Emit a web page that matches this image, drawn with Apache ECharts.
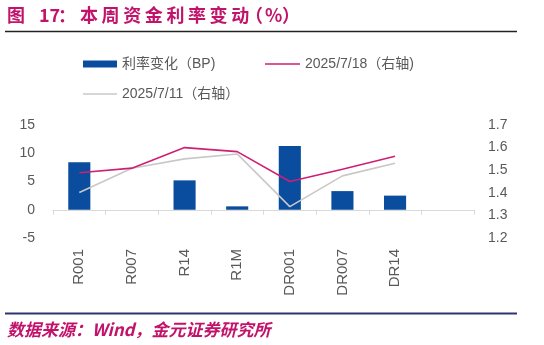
<!DOCTYPE html>
<html>
<head>
<meta charset="utf-8">
<script src="https://cdn.jsdelivr.net/npm/echarts@6/dist/echarts.min.js"></script>
<style>html,body{margin:0;padding:0;background:#fff;}#c{width:544px;height:345px;}</style>
</head>
<body>
<div id="c"></div>
<script>
var categories = ['R001', 'R007', 'R14', 'R1M', 'DR001', 'DR007', 'DR14', ''];
var changeBP = [8.4, 0, 5.2, 0.6, 11.3, 3.3, 2.5, null];
var rate0718 = [1.489, 1.509, 1.600, 1.582, 1.450, 1.504, 1.562];
var rate0711 = [1.401, 1.509, 1.550, 1.572, 1.339, 1.475, 1.531];
var leftTicks = { min: -5, max: 15, interval: 5 };
var rightTicks = { min: 1.2, max: 1.7, interval: 0.1 };
var names = ['利率变化（BP)', '2025/7/18（右轴)', '2025/7/11（右轴）'];

var chart = echarts.init(document.getElementById('c'), null, { renderer: 'canvas' });
var txtFont = "'Liberation Sans', 'Noto Sans CJK SC', sans-serif";
var grey = '#595959';
var titleColor = '#c2136b';
var titleFont = "bold 18px 'Noto Sans CJK SC', sans-serif";

var titlePieces = [['图', 7], ['17', 39], ['：', 58]];
var mainTitle = '本周资金利率变动';
for (var i = 0; i < mainTitle.length; i++) titlePieces.push([mainTitle[i], 80 + i * 21.6]);
titlePieces.push(['（', 245], ['%', 265], ['）', 282]);
var graphics = titlePieces.map(function (p) {
  return { type: 'text', x: p[1], y: 6, style: { text: p[0], fill: titleColor, font: titleFont } };
});
graphics.push(
  { type: 'line', shape: { x1: 5, y1: 31.5, x2: 517, y2: 31.5 }, style: { stroke: '#222', lineWidth: 1.5 } },
  { type: 'line', shape: { x1: 5, y1: 313.5, x2: 517, y2: 313.5 }, style: { stroke: '#2e3470', lineWidth: 2 } },
  { type: 'text', x: 7, y: 321, style: { text: '数据来源：Wind，金元证券研究所', fill: titleColor, font: "italic bold 17px 'Noto Sans CJK SC', sans-serif" } }
);

chart.setOption({
  animation: false,
  backgroundColor: '#ffffff',
  graphic: graphics,
  legend: [
    { left: 78, top: 52, itemWidth: 34, itemHeight: 7, textStyle: { color: grey, fontSize: 14, fontFamily: txtFont }, data: [{ name: names[0], icon: 'rect' }] },
    { left: 260, top: 52, itemWidth: 35, itemHeight: 1.6, textStyle: { color: grey, fontSize: 14, fontFamily: txtFont }, data: [{ name: names[1], icon: 'rect' }] },
    { left: 78, top: 82, itemWidth: 34, itemHeight: 1.4, textStyle: { color: grey, fontSize: 14, fontFamily: txtFont }, data: [{ name: names[2], icon: 'rect' }] }
  ],
  grid: { left: 53, right: 70, top: 125, bottom: 107, containLabel: false },
  xAxis: {
    type: 'category',
    data: categories,
    boundaryGap: true,
    axisLine: { show: true, onZero: true, lineStyle: { color: '#d9d9d9', width: 1 } },
    axisTick: { show: true, length: 5, lineStyle: { color: '#d9d9d9' } },
    axisLabel: { rotate: 90, margin: 11, color: grey, fontSize: 15, fontFamily: txtFont, interval: 0 },
    splitLine: { show: false }
  },
  yAxis: [
    { type: 'value', min: leftTicks.min, max: leftTicks.max, interval: leftTicks.interval, axisLine: { show: false }, axisTick: { show: false }, splitLine: { show: false }, axisLabel: { color: grey, fontSize: 14, fontFamily: txtFont, margin: 18 } },
    { type: 'value', min: rightTicks.min, max: rightTicks.max, interval: rightTicks.interval, axisLine: { show: false }, axisTick: { show: false }, splitLine: { show: false }, axisLabel: { color: grey, fontSize: 14, fontFamily: txtFont, margin: 14, formatter: function (v) { return v.toFixed(1); } } }
  ],
  series: [
    { name: names[0], type: 'bar', yAxisIndex: 0, data: changeBP, barWidth: '42%', itemStyle: { color: '#0a4d9e' }, z: 2 },
    { name: names[1], type: 'line', yAxisIndex: 1, data: rate0718, symbol: 'none', lineStyle: { color: '#cf1f73', width: 1.6 }, itemStyle: { color: '#cf1f73' }, z: 4 },
    { name: names[2], type: 'line', yAxisIndex: 1, data: rate0711, symbol: 'none', lineStyle: { color: '#c8c8c8', width: 1.6 }, itemStyle: { color: '#c8c8c8' }, z: 3 }
  ]
});
</script>
</body>
</html>
